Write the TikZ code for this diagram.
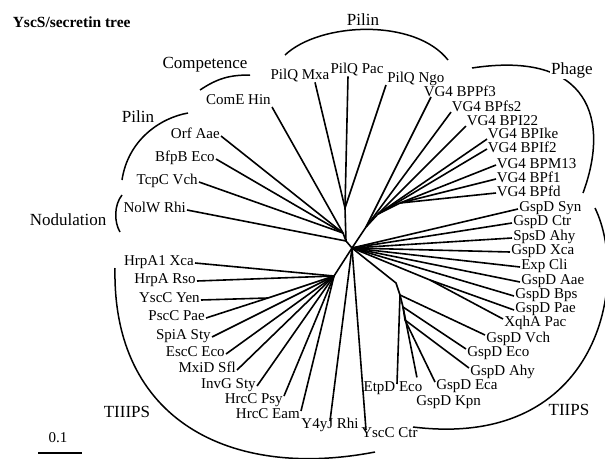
\documentclass[tikz,border=0pt]{standalone}
\usepackage{fontspec}
\setmainfont{Liberation Serif}

\begin{document}
\begin{tikzpicture}[x=1pt,y=-1pt,line width=1.6pt]
\tikzstyle{leaf}=[inner sep=0.5pt,text height=0.66em,text depth=0.15em,font=\fontsize{15}{16}\selectfont]
\tikzstyle{phageleaf}=[leaf,inner sep=0pt,text depth=0pt]
\tikzstyle{group}=[inner sep=1pt,font=\fontsize{17}{18}\selectfont]
\tikzstyle{bracket}=[line width=1.5pt]
\useasboundingbox (0,0) rectangle (605,458);

\node[anchor=west,inner sep=0pt,font=\bfseries\fontsize{15.5}{16}\selectfont] (title) at (12,22) {YscS/secretin tree};

% clade brackets
\draw[bracket] (285,55) .. controls (320,22) and (415,18) .. (448,60);
\draw[bracket] (472,68) .. controls (590,50) and (610,120) .. (583,193);
\draw[bracket] (200,90) .. controls (218,78) and (230,75) .. (250,75);
\draw[bracket] (188,113) .. controls (160,118) and (128,140) .. (122,180);
\draw[bracket] (122,195) .. controls (114,205) and (114,222) .. (120,232);
\draw[bracket] (115,268) .. controls (112,420) and (230,480) .. (375,452);
\draw[bracket] (595,208) .. controls (630,280) and (600,450) .. (413,427);

\node[group] (pilinA) at (363,20) {Pilin};
\node[group,fill=white] (phage) at (572,70) {Phage};
\node[group] (compet) at (205,65) {Competence};
\node[group] (pilinB) at (138,117) {Pilin};
\node[group] (nodul) at (68,220) {Nodulation};
\node[group] (tiiips) at (127,412) {TIIIPS};
\node[group] (tiips) at (569,410) {TIIPS};

% inner points of the tree
\coordinate (h) at (352,248);
\coordinate (q) at (345,208);
\coordinate (l1) at (343,233);
\coordinate (l2) at (346,241);
\coordinate (v1) at (366,227);
\coordinate (v2) at (378,214);
\coordinate (v3) at (400,203);
\coordinate (t) at (334,276);
\coordinate (y1) at (268,298);
\coordinate (p1) at (430,280);
\coordinate (g1) at (396,283);
\coordinate (g2) at (400,295);
\coordinate (g3) at (403,307);
\coordinate (g4) at (405,320);

% leaves
\node[leaf] (mxa) at (300,77) {PilQ Mxa};
\node[leaf] (pac) at (357,71) {PilQ Pac};
\node[leaf,anchor=south west] (ngo) at (386,85) {PilQ Ngo};
\node[phageleaf,anchor=south west] (bppf3) at (423,97) {VG4 BPPf3};
\node[phageleaf,anchor=west] (bpfs2) at (451,108) {VG4 BPfs2};
\node[phageleaf,anchor=west] (bpi22) at (466,122) {VG4 BPI22};
\node[phageleaf,anchor=west] (bpike) at (487,135) {VG4 BPIke};
\node[phageleaf,anchor=west] (bpif2) at (487,149) {VG4 BPIf2};
\node[phageleaf,anchor=west] (bpm13) at (496,165) {VG4 BPM13};
\node[phageleaf,anchor=west] (bpf1) at (496,179) {VG4 BPf1};
\node[phageleaf,anchor=west] (bpfd) at (496,193) {VG4 BPfd};
\node[leaf,anchor=west] (syn) at (518,209) {GspD Syn};
\node[leaf,anchor=west] (ctr) at (512,223) {GspD Ctr};
\node[leaf,anchor=west] (sps) at (512,238) {SpsD Ahy};
\node[leaf,anchor=west] (xca) at (510,252) {GspD Xca};
\node[leaf,anchor=west] (exp) at (520,267) {Exp Cli};
\node[leaf,anchor=west] (aae) at (520,282) {GspD Aae};
\node[leaf,anchor=west] (bps) at (514,296) {GspD Bps};
\node[leaf,anchor=west] (pae) at (514,310) {GspD Pae};
\node[leaf,anchor=north west] (xqh) at (503,319) {XqhA Pac};
\node[leaf,anchor=north west] (vch) at (485,335) {GspD Vch};
\node[leaf,anchor=north west] (eco) at (466,349) {GspD Eco};
\node[leaf,anchor=north west] (ahy) at (469,368) {GspD Ahy};
\node[leaf,anchor=north west] (eca) at (435,382) {GspD Eca};
\node[leaf,anchor=north west] (kpn) at (415,398) {GspD Kpn};
\node[leaf,anchor=north] (etp) at (393,384) {EtpD Eco};
\node[leaf,anchor=north west] (cctr) at (360,430) {YscC Ctr};
\node[leaf,anchor=north] (y4y) at (330,421) {Y4yJ Rhi};
\node[leaf,anchor=north east] (eam) at (301,411) {HrcC Eam};
\node[leaf,anchor=north east] (psy) at (284,396) {HrcC Psy};
\node[leaf,anchor=east] (invg) at (257,386) {InvG Sty};
\node[leaf,anchor=east] (mxid) at (237,370) {MxiD Sfl};
\node[leaf,anchor=east] (escc) at (226,354) {EscC Eco};
\node[leaf,anchor=east] (spia) at (212,337) {SpiA Sty};
\node[leaf,anchor=east] (pscc) at (206,318) {PscC Pae};
\node[leaf,anchor=east] (yen) at (201,300) {YscC Yen};
\node[leaf,anchor=east] (rso) at (197,281) {HrpA Rso};
\node[leaf,anchor=east] (hrpa1) at (195,263) {HrpA1 Xca};
\node[leaf,anchor=east] (nolw) at (187,210) {NolW Rhi};
\node[leaf,anchor=east] (tcpc) at (199,182) {TcpC Vch};
\node[leaf,anchor=east] (bfpb) at (216,159) {BfpB Eco};
\node[leaf,anchor=east] (orf) at (221,136) {Orf Aae};
\node[leaf,anchor=south east] (come) at (272,107) {ComE Hin};

% branches
\draw (l2) -- (h);
\draw (l1) -- (l2);
\draw (q) -- (l2);
\draw (l2) -- (nolw.east);
\draw (l1) -- (come.south east);
\draw (l1) -- (orf.east);
\draw (l1) -- (bfpb.east);
\draw (l1) -- (tcpc.east);
\draw (q) -- ([xshift=15pt]mxa.south);
\draw (q) -- ([xshift=-9pt]pac.south);
\draw (q) -- (ngo.south west);
\draw (h) -- (v1);
\draw (v1) -- ([xshift=8pt]bppf3.south west);
\draw (v1) -- (bpfs2.south west);
\draw (v1) -- (v2);
\draw (v2) -- (bpi22.south west);
\draw (v2) -- (bpike.south west);
\draw (v2) -- (bpif2.west);
\draw (v2) -- (v3);
\draw (v3) -- (bpm13.west);
\draw (v3) -- (bpf1.west);
\draw (v3) -- (bpfd.west);
\draw (h) -- (syn.west);
\draw (h) -- (ctr.west);
\draw (h) -- (sps.west);
\draw (h) -- (xca.west);
\draw (h) -- (exp.west);
\draw (h) -- (aae.west);
\draw (h) -- (bps.west);
\draw (h) -- (p1);
\draw (p1) -- (pae.west);
\draw (p1) -- (xqh.north west);
\draw (h) -- (g1) -- (g2) -- (g3) -- (g4);
\draw (g2) -- (vch.north west);
\draw (g2) -- ([xshift=4pt]etp.north);
\draw (g3) -- (eco.north west);
\draw[shorten >=21pt] (g3) -- ([xshift=6pt]kpn.north west);
\draw (g4) -- (ahy.north west);
\draw (g4) -- (eca.north west);
\draw (h) -- ([xshift=6pt]cctr.north west);
\draw (h) -- (y4y.north);
\draw (h) -- (t);
\draw (t) -- (hrpa1.east);
\draw (t) -- (rso.east);
\draw (t) -- (y1);
\draw (y1) -- (pscc.east);
\draw (y1) -- (yen.east);
\draw (t) -- (spia.east);
\draw (t) -- (escc.east);
\draw (t) -- (mxid.east);
\draw (t) -- (invg.east);
\draw (t) -- (psy.north east);
\draw (t) -- (eam.north east);

% scale bar
\coordinate (s0) at (38,453);
\coordinate (s1) at (82,453);
\draw (s0) -- (s1);
\node[leaf] (scale) at (58,440) {0.1};
\end{tikzpicture}
\end{document}
